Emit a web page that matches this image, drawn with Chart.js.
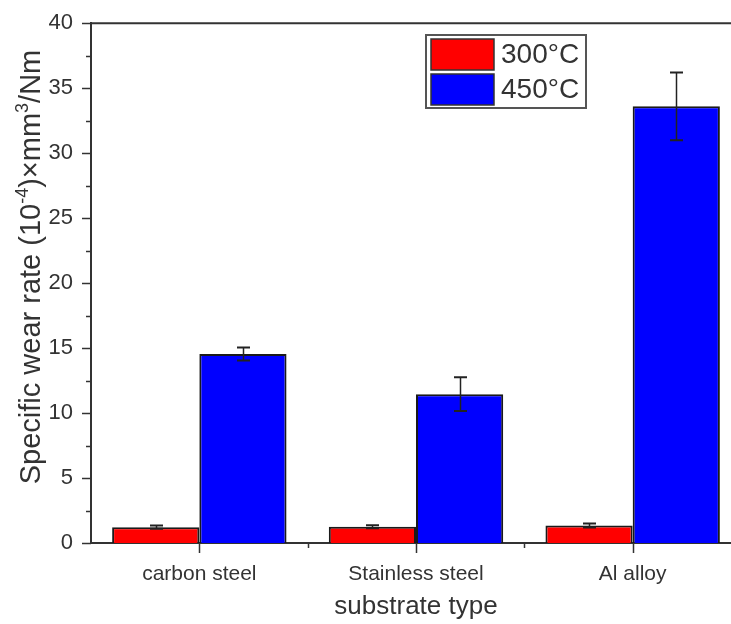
<!DOCTYPE html>
<html>
<head>
<meta charset="utf-8">
<title>Specific wear rate by substrate</title>
<script src="https://cdn.jsdelivr.net/npm/chart.js@4.4.1/dist/chart.umd.min.js"></script>
<style>
  html, body { margin: 0; padding: 0; background: #fff; overflow: hidden; }
  canvas { display: block; }
</style>
</head>
<body>
<canvas id="wearChart" width="741" height="624"></canvas>
<script>
/* ── data ── */
const categories   = ['carbon steel', 'Stainless steel', 'Al alloy'];
const seriesLabels = ['300°C', '450°C'];
const rate300      = [1.22, 1.25, 1.35];
const err300       = [0.12, 0.12, 0.15];
const rate450      = [14.55, 11.45, 33.6];
const err450       = [0.5, 1.3, 2.6];
const seriesColors = ['#ff0000', '#0000ff'];

const yMin = 0, yMax = 40, yStep = 5;
const xTitle = 'substrate type';
// y title pieces: [text, superscript?]
const yTitleParts = [['Specific wear rate (10', false], ['-4', true], [')\u00d7mm', false], ['3', true], ['/Nm', false]];

const FONT = '"Liberation Sans", Arial, sans-serif';
const INK  = '#333';

/* ── axis frame + tick marks ── */
const axisDecor = {
  id: 'axisDecor',
  afterDraw(chart) {
    const { ctx, chartArea: a, scales: { x, y } } = chart;
    ctx.save();
    ctx.strokeStyle = INK;
    ctx.lineWidth = 2;

    // top frame line
    ctx.beginPath();
    ctx.moveTo(a.left - 1, a.top);
    ctx.lineTo(a.right + 10, a.top);
    ctx.stroke();

    // y ticks: major every step, minor half-way
    ctx.lineWidth = 1.5;
    for (let v = yMin; v <= yMax + 1e-9; v += yStep / 2) {
      const py = Math.round(y.getPixelForValue(v)) + 0.5;
      const len = (v % yStep === 0) ? 9 : 5;
      ctx.beginPath();
      ctx.moveTo(a.left - len, py);
      ctx.lineTo(a.left, py);
      ctx.stroke();
    }

    // x ticks: major at category centres, minor at boundaries
    categories.forEach((c, i) => {
      const px = Math.round(x.getPixelForValue(i)) + 0.5;
      ctx.beginPath();
      ctx.moveTo(px, a.bottom);
      ctx.lineTo(px, a.bottom + 10);
      ctx.stroke();
      if (i > 0) {
        const mx = Math.round((x.getPixelForValue(i - 1) + x.getPixelForValue(i)) / 2) + 0.5;
        ctx.beginPath();
        ctx.moveTo(mx, a.bottom);
        ctx.lineTo(mx, a.bottom + 5);
        ctx.stroke();
      }
    });
    ctx.restore();
  }
};

/* ── error bars ── */
const errorBars = {
  id: 'errorBars',
  afterDatasetsDraw(chart) {
    const { ctx, scales: { y } } = chart;
    const errs = [err300, err450];
    ctx.save();
    ctx.strokeStyle = '#222';
    chart.data.datasets.forEach((ds, di) => {
      const meta = chart.getDatasetMeta(di);
      meta.data.forEach((bar, i) => {
        const v = ds.data[i], e = errs[di][i];
        const top = y.getPixelForValue(v + e);
        const bot = y.getPixelForValue(v - e);
        const cx = Math.round(bar.x) + 0.5;
        const hw = 6.5;
        ctx.lineWidth = 1.5;
        ctx.beginPath();
        ctx.moveTo(cx, top);
        ctx.lineTo(cx, bot);
        ctx.stroke();
        ctx.lineWidth = 2;
        ctx.beginPath();
        ctx.moveTo(cx - hw, top); ctx.lineTo(cx + hw, top);
        ctx.moveTo(cx - hw, bot); ctx.lineTo(cx + hw, bot);
        ctx.stroke();
      });
    });
    ctx.restore();
  }
};

/* ── boxed legend inside the plot ── */
const legendBox = {
  id: 'legendBox',
  afterDraw(chart) {
    const { ctx } = chart;
    const bx = 426, by = 35, bw = 160, bh = 73;
    ctx.save();
    ctx.fillStyle = '#fff';
    ctx.fillRect(bx, by, bw, bh);
    ctx.strokeStyle = '#555';
    ctx.lineWidth = 2;
    ctx.strokeRect(bx, by, bw, bh);

    ctx.font = '28px ' + FONT;
    ctx.textBaseline = 'middle';
    ctx.textAlign = 'left';
    chart.data.datasets.forEach((ds, i) => {
      const sy = by + 4 + i * 35;
      ctx.fillStyle = ds.backgroundColor;
      ctx.fillRect(bx + 5, sy, 63, 31);
      ctx.strokeStyle = '#333';
      ctx.lineWidth = 1.5;
      ctx.strokeRect(bx + 5, sy, 63, 31);
      ctx.fillStyle = INK;
      ctx.fillText(ds.label, bx + 75, sy + 16);
    });
    ctx.restore();
  }
};

/* ── rotated y title with superscripts ── */
const yTitle = {
  id: 'yTitle',
  afterDraw(chart) {
    const { ctx } = chart;
    const mainFont = '29px ' + FONT;
    const supFont  = '18px ' + FONT;
    ctx.save();
    ctx.translate(40, 267);
    ctx.rotate(-Math.PI / 2);
    ctx.fillStyle = INK;
    ctx.textBaseline = 'alphabetic';
    ctx.textAlign = 'left';
    let total = 0;
    yTitleParts.forEach(([t, sup]) => {
      ctx.font = sup ? supFont : mainFont;
      total += ctx.measureText(t).width;
    });
    let xPos = -total / 2;
    yTitleParts.forEach(([t, sup]) => {
      ctx.font = sup ? supFont : mainFont;
      ctx.fillText(t, xPos, sup ? -12 : 0);
      xPos += ctx.measureText(t).width;
    });
    ctx.restore();
  }
};

const datasets = [rate300, rate450].map((vals, i) => ({
  label: seriesLabels[i],
  data: vals,
  backgroundColor: seriesColors[i],
  borderColor: '#1a1a1a',
  borderWidth: 2,
  categoryPercentage: 0.805,
  barPercentage: 1
}));

new Chart(document.getElementById('wearChart').getContext('2d'), {
  type: 'bar',
  data: { labels: categories, datasets },
  options: {
    responsive: false,
    animation: false,
    layout: { padding: { top: 8, left: 0, right: 0, bottom: 0 } },
    plugins: { legend: { display: false }, tooltip: { enabled: false } },
    scales: {
      x: {
        grid: { display: false },
        border: { display: true, color: INK, width: 2 },
        ticks: { color: INK, font: { family: FONT, size: 21 }, padding: 11 },
        title: { display: true, text: xTitle, color: INK, font: { family: FONT, size: 26 }, padding: { top: 0, bottom: 2 } },
        afterFit: s => { s.height = 81; }
      },
      y: {
        min: yMin, max: yMax,
        grid: { display: false },
        border: { display: true, color: INK, width: 2 },
        ticks: { stepSize: yStep, color: INK, font: { family: FONT, size: 22 }, padding: 10 },
        afterFit: s => { s.width = 91; }
      }
    }
  },
  plugins: [axisDecor, errorBars, legendBox, yTitle]
});
</script>
</body>
</html>
